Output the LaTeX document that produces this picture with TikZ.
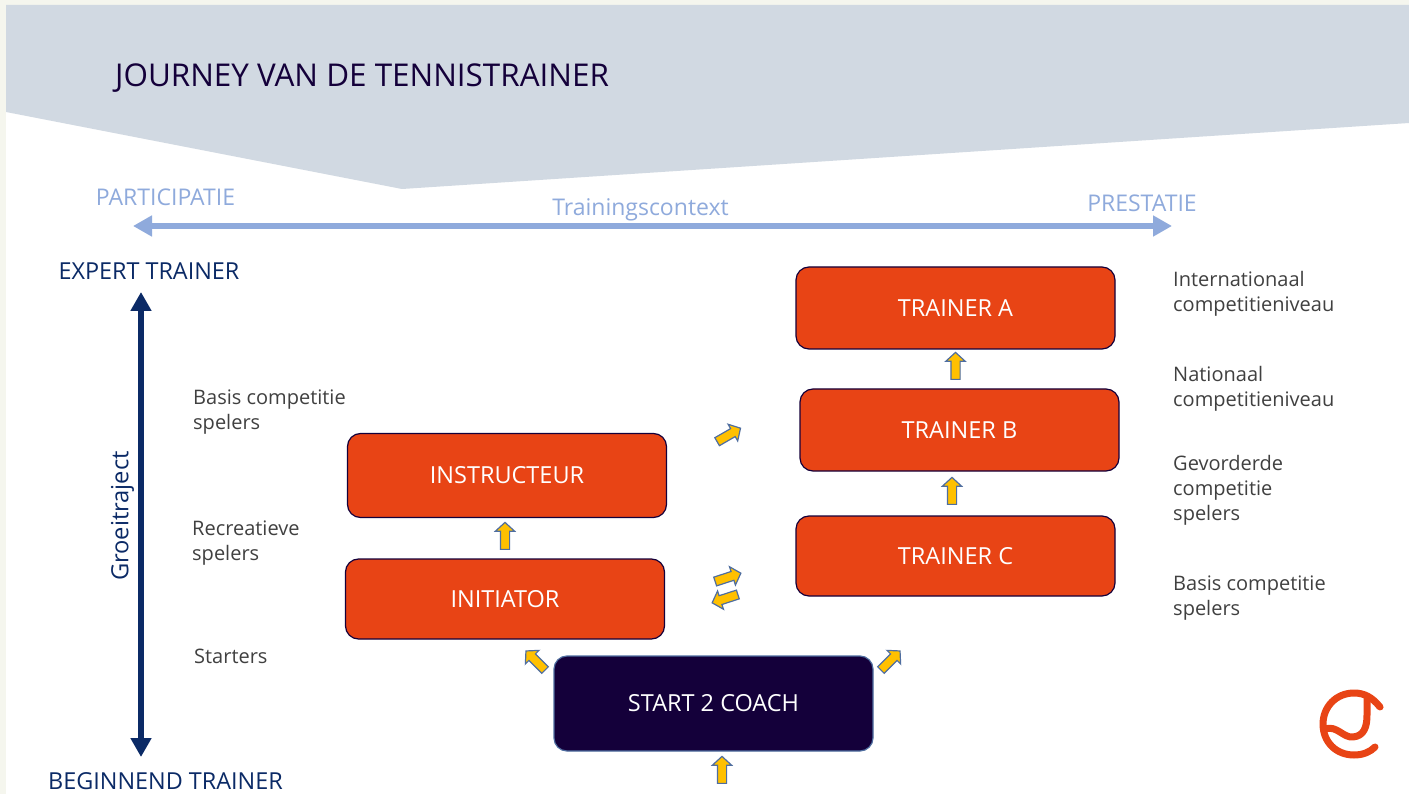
\documentclass[tikz,border=0pt]{standalone}
\usepackage{fontspec}
\setmainfont{Open Sans}
\usetikzlibrary{arrows.meta,shapes.arrows}
\definecolor{pagebg}{HTML}{F5F6EE}
\definecolor{band}{HTML}{D1D9E2}
\definecolor{ink}{HTML}{14003A}
\definecolor{navy}{HTML}{0B2A66}
\definecolor{sky}{HTML}{8FAADC}
\definecolor{orangered}{HTML}{E84415}
\definecolor{amber}{HTML}{FFC000}
\definecolor{arrowedge}{HTML}{4F6EA0}
\definecolor{grey}{HTML}{404040}
\tikzset{
  x=1pt,y=-1pt,
  orangebox/.style={draw=ink,line width=1.2pt,fill=orangered,rounded corners=13pt,text=white,font=\fontsize{23.5}{26}\selectfont,inner sep=0pt},
  darkbox/.style={draw=arrowedge,line width=1.2pt,fill=ink,rounded corners=13pt,text=white,font=\fontsize{23.5}{26}\selectfont,inner sep=0pt},
  blockarrow/.style={single arrow,draw=arrowedge,line width=1.2pt,fill=amber,minimum height=27pt,inner xsep=0pt,inner ysep=4pt,single arrow head extend=5pt,single arrow tip angle=95},
  sidelabel/.style={anchor=west,align=left,text=grey,font=\fontsize{20}{25}\selectfont,inner sep=0pt},
  skylabel/.style={text=sky,font=\fontsize{23}{26}\selectfont,inner sep=0pt},
  navylabel/.style={text=navy,font=\fontsize{23.4}{26}\selectfont,inner sep=0pt},
  bigarrow/.style={line width=6pt,{Triangle[length=19pt,width=20pt]}-{Triangle[length=19pt,width=20pt]}},
}
\newcommand{\boxat}[7]{\node[#1,minimum width=#5pt,minimum height=#6pt] (#2) at (#3,#4) {\raisebox{-1.5pt}{#7}};}
\begin{document}
\begin{tikzpicture}
\useasboundingbox (0,0) rectangle (1409,794);
\fill[pagebg] (0,0) rectangle (1409,794);
\fill[white] (6,5) rectangle (1409,794);
\fill[band] (6,5) -- (1409,5) -- (1409,123) -- (402,189) -- (6,112) -- cycle;
\node[anchor=west,text=ink,font=\fontsize{31.4}{36}\selectfont,inner sep=0pt] (title) at (115,78.5) {JOURNEY VAN DE TENNISTRAINER};

\node[skylabel] (part) at (165.5,197) {PARTICIPATIE};
\node[skylabel] (ctx) at (640.5,209.5) {Trainingscontext};
\node[skylabel] (prest) at (1142,203.5) {PRESTATIE};
\coordinate (hl) at (133,226);
\coordinate (hr) at (1172,226);
\draw[bigarrow,sky] (hl) -- (hr);

\node[navylabel] (expert) at (149,271.5) {EXPERT TRAINER};
\node[navylabel] (begin) at (165.5,781.5) {BEGINNEND TRAINER};
\coordinate (vt) at (141,292);
\coordinate (vb) at (141,757);
\draw[bigarrow,navy] (vt) -- (vb);
\node[rotate=90,navylabel,font=\fontsize{23.7}{26}\selectfont] (groei) at (122.5,516) {Groeitraject};

\boxat{orangebox}{tra}{955.5}{308}{319}{82}{TRAINER A}
\boxat{orangebox}{trb}{959.5}{430}{319}{82}{TRAINER B}
\boxat{orangebox}{trc}{955.5}{556}{319}{80}{TRAINER C}
\boxat{orangebox}{ins}{507}{475.5}{319}{84}{INSTRUCTEUR}
\boxat{orangebox}{ini}{505}{599}{319}{80}{INITIATOR}
\boxat{darkbox}{s2c}{713.5}{703.5}{319}{95}{START 2 COACH}

\node[blockarrow,rotate=90] (a1) at (955.5,368) {};
\node[blockarrow,rotate=90] (a2) at (952,493) {};
\node[blockarrow,rotate=90] (a3) at (505,538) {};
\node[blockarrow,rotate=90] (a4) at (722,772) {};
\node[blockarrow,rotate=30] (a5) at (727,436) {};
\node[blockarrow,rotate=18] (a6) at (726,578) {};
\node[blockarrow,rotate=198] (a7) at (727,598) {};
\node[blockarrow,rotate=135] (a8) at (537,662) {};
\node[blockarrow,rotate=45] (a9) at (889,662) {};

\node[sidelabel] (l1) at (193,412.5) {Basis competitie\\spelers};
\node[sidelabel] (l2) at (192,543.5) {Recreatieve\\spelers};
\node[sidelabel] (l3) at (194,656) {Starters};
\node[sidelabel] (r1) at (1173,294) {Internationaal\\competitieniveau};
\node[sidelabel] (r2) at (1173,389) {Nationaal\\competitieniveau};
\node[sidelabel] (r3) at (1173,490.5) {Gevorderde\\competitie\\spelers};
\node[sidelabel] (r4) at (1173,598.5) {Basis competitie\\spelers};

\draw[orangered,line width=7pt,line cap=round,line join=round]
  (1380,707) .. controls (1372,697) and (1364,693) .. (1354,693)
  .. controls (1336,693) and (1323,707) .. (1323,724)
  .. controls (1323,742) and (1336,755) .. (1354,755)
  .. controls (1363,755) and (1370,752) .. (1375,747);
\draw[orangered,line width=7pt,line cap=round,line join=round]
  (1325,729) .. controls (1337,725) and (1343,738) .. (1353,737)
  .. controls (1364,736) and (1367,727) .. (1367,715) -- (1367,698);
\end{tikzpicture}
\end{document}
